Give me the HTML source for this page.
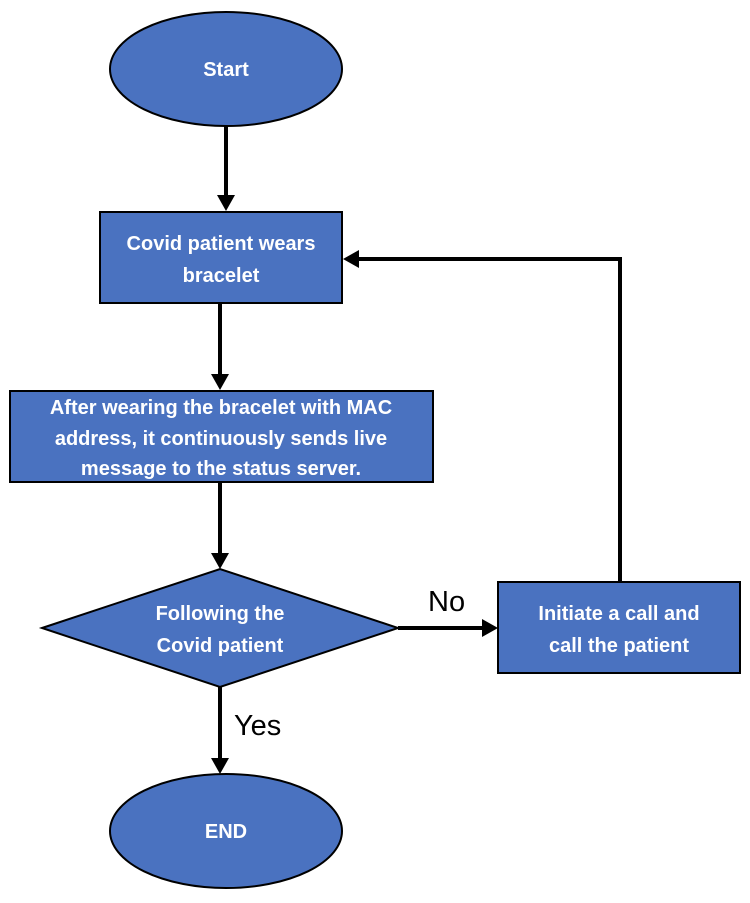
<!DOCTYPE html>
<html><head><style>body{margin:0;background:#fff}</style></head><body>
<svg width="750" height="898" xmlns="http://www.w3.org/2000/svg" font-family="Liberation Sans, sans-serif">
<g stroke="#000" stroke-width="4" fill="none">
<line x1="226" y1="126" x2="226" y2="197"/>
<line x1="220" y1="303" x2="220" y2="376"/>
<line x1="220" y1="482" x2="220" y2="555"/>
<line x1="220" y1="687" x2="220" y2="760"/>
<line x1="398" y1="628" x2="484" y2="628"/>
<polyline points="620,582 620,259 357,259"/>
</g>
<g fill="#000">
<path d="M217,195 L235,195 L226,211z"/>
<path d="M211,374 L229,374 L220,390z"/>
<path d="M211,553 L229,553 L220,569z"/>
<path d="M211,758 L229,758 L220,774z"/>
<path d="M482,619 L482,637 L498,628z"/>
<path d="M359,250 L359,268 L343,259z"/>
</g>
<g fill="#4A72C0" stroke="#000" stroke-width="2">
<ellipse cx="226" cy="69" rx="116" ry="57"/>
<rect x="100" y="212" width="242" height="91"/>
<rect x="10" y="391" width="423" height="91"/>
<path d="M42,628 L220,569 L398,628 L220,687z"/>
<rect x="498" y="582" width="242" height="91"/>
<ellipse cx="226" cy="831" rx="116" ry="57"/>
</g>
<g fill="#fff" font-size="20" font-weight="bold" text-anchor="middle">
<text x="226" y="76">Start</text>
<text x="221" y="250">Covid patient wears</text>
<text x="221" y="282">bracelet</text>
<text x="221" y="414">After wearing the bracelet with MAC</text>
<text x="221" y="445">address, it continuously sends live</text>
<text x="221" y="475">message to the status server.</text>
<text x="220" y="620">Following the</text>
<text x="220" y="652">Covid patient</text>
<text x="619" y="620">Initiate a call and</text>
<text x="619" y="652">call the patient</text>
<text x="226" y="838">END</text>
</g>
<g fill="#000" font-size="29">
<text x="428" y="611">No</text>
<text x="234" y="735">Yes</text>
</g>
</svg>
</body></html>
